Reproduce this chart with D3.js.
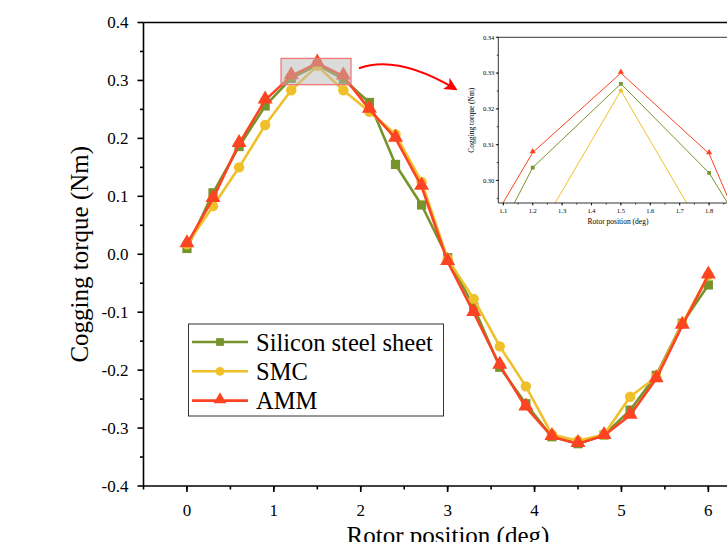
<!DOCTYPE html>
<html>
<head>
<meta charset="utf-8">
<script src="https://cdn.jsdelivr.net/npm/d3@7"></script>
<style>
  body { margin: 0; background: #fff; }
  svg { font-family: "Liberation Serif", "Times New Roman", serif; }
</style>
</head>
<body>
<svg id="vis" width="727" height="542"></svg>
<script>
// rotor position (deg)
const POSITIONS = [0, 0.3, 0.6, 0.9, 1.2, 1.5, 1.8, 2.1, 2.4, 2.7, 3.0, 3.3, 3.6, 3.9, 4.2, 4.5, 4.8, 5.1, 5.4, 5.7, 6.0];
// cogging torque (Nm)
const SILICON = [0.010, 0.106, 0.186, 0.256, 0.3036, 0.327, 0.3021, 0.262, 0.155, 0.085, -0.006, -0.091, -0.195, -0.258, -0.315, -0.327, -0.312, -0.269, -0.209, -0.119, -0.053];
const SMC = [0.017, 0.083, 0.150, 0.223, 0.283, 0.3251, 0.283, 0.246, 0.207, 0.125, -0.008, -0.077, -0.159, -0.228, -0.311, -0.322, -0.311, -0.246, -0.212, -0.120, -0.036];
const AMM = [0.018, 0.096, 0.191, 0.266, 0.3078, 0.330, 0.3075, 0.250, 0.200, 0.117, -0.013, -0.101, -0.192, -0.264, -0.315, -0.327, -0.313, -0.278, -0.215, -0.123, -0.036];

const SERIES_NAMES = ["Silicon steel sheet", "SMC", "AMM"];
const X_TICKS = [0, 1, 2, 3, 4, 5, 6];
const Y_TICKS = [-0.4, -0.3, -0.2, -0.1, 0.0, 0.1, 0.2, 0.3, 0.4];
const INSET_X_TICKS = [1.1, 1.2, 1.3, 1.4, 1.5, 1.6, 1.7, 1.8];
const INSET_Y_TICKS = [0.30, 0.31, 0.32, 0.33, 0.34];

const COLORS = ["#76942b", "#f0c02a", "#fc4422"];
const SHAPES = [d3.symbolSquare, d3.symbolCircle, d3.symbolTriangle];

const svg = d3.select("#vis");
const defs = svg.append("defs");
const series = [SILICON, SMC, AMM].map((vals, i) => ({
    name: SERIES_NAMES[i], color: COLORS[i], shape: SHAPES[i],
    points: POSITIONS.map((p, j) => ({x: p, y: vals[j]}))
}));

// hyphen instead of unicode minus, like the original figure
const fmt = spec => d => d3.format(spec)(d).replace("\u2212", "-");

// main scales
const x = d3.scaleLinear().domain([-0.5, 6.5]).range([143.5, 751.8]);
const y = d3.scaleLinear().domain([-0.4, 0.4]).range([486, 22.5]);

function drawAxes(g, xs, ys, opt) {
    const [x0, x1] = xs.range();
    const [y0, y1] = ys.range();
    const sw = opt.sw;
    // frame: bottom, left, top
    g.append("line").attr("x1", x0).attr("x2", x1).attr("y1", y0).attr("y2", y0)
        .attr("stroke", "#000").attr("stroke-width", sw);
    g.append("line").attr("x1", x0).attr("x2", x0).attr("y1", y0).attr("y2", y1)
        .attr("stroke", "#000").attr("stroke-width", sw);
    g.append("line").attr("x1", x0).attr("x2", x1).attr("y1", y1).attr("y2", y1)
        .attr("stroke", "#000").attr("stroke-width", sw);

    g.selectAll(null).data(opt.xMinor).enter().append("line")
        .attr("x1", d => xs(d)).attr("x2", d => xs(d))
        .attr("y1", y0).attr("y2", y0 + opt.minor)
        .attr("stroke", "#000").attr("stroke-width", sw);
    g.selectAll(null).data(opt.xTicks).enter().append("line")
        .attr("x1", d => xs(d)).attr("x2", d => xs(d))
        .attr("y1", y0).attr("y2", y0 + opt.major)
        .attr("stroke", "#000").attr("stroke-width", sw);
    g.selectAll(null).data(opt.xTicks).enter().append("text")
        .attr("x", d => xs(d)).attr("y", y0 + opt.xLabOff)
        .attr("text-anchor", "middle").attr("font-size", opt.fs)
        .text(opt.fmtX);

    g.selectAll(null).data(opt.yMinor).enter().append("line")
        .attr("y1", d => ys(d)).attr("y2", d => ys(d))
        .attr("x1", x0).attr("x2", x0 - opt.minor)
        .attr("stroke", "#000").attr("stroke-width", sw);
    g.selectAll(null).data(opt.yTicks).enter().append("line")
        .attr("y1", d => ys(d)).attr("y2", d => ys(d))
        .attr("x1", x0).attr("x2", x0 - opt.major)
        .attr("stroke", "#000").attr("stroke-width", sw);
    g.selectAll(null).data(opt.yTicks).enter().append("text")
        .attr("x", x0 - opt.yLabOff).attr("y", d => ys(d))
        .attr("dy", "0.35em").attr("text-anchor", "end").attr("font-size", opt.fs)
        .text(opt.fmtY);
}

// main axes
const main = svg.append("g");
drawAxes(main, x, y, {
    xTicks: X_TICKS, yTicks: Y_TICKS,
    xMinor: d3.range(-0.5, 6.51, 0.5), yMinor: d3.range(-0.35, 0.4, 0.1),
    fmtX: fmt("d"), fmtY: fmt(".1f"),
    fs: 17, major: 6, minor: 3.5, sw: 1.6, xLabOff: 30, yLabOff: 15
});

main.append("text")
    .attr("transform", `translate(88, ${y(0)}) rotate(-90)`)
    .attr("text-anchor", "middle").attr("font-size", 25)
    .text("Cogging torque (Nm)");
main.append("text")
    .attr("x", 448).attr("y", 544)
    .attr("text-anchor", "middle").attr("font-size", 25)
    .text("Rotor position (deg)");

// series lines and markers
function drawSeries(g, xs, ys, lw, msize) {
    const line = d3.line().x(d => xs(d.x)).y(d => ys(d.y));
    series.forEach(s => {
        g.append("path").datum(s.points)
            .attr("d", line).attr("fill", "none")
            .attr("stroke", s.color).attr("stroke-width", lw)
            .attr("stroke-linejoin", "round");
        const tri = s.shape === d3.symbolTriangle;
        g.selectAll(null).data(s.points).enter().append("path")
            .attr("d", d3.symbol().type(s.shape).size(tri ? msize * 1.15 : msize))
            .attr("transform", d => `translate(${xs(d.x)},${ys(d.y) + (tri ? -1 : 0)})`)
            .attr("fill", s.color);
    });
}
drawSeries(main.append("g"), x, y, 2.6, 85);

// inset scales
const ix = d3.scaleLinear().domain([1.083, 1.9]).range([498.3, 738.5]);
const iy = d3.scaleLinear().domain([0.2937, 0.34]).range([203, 37.3]);

// highlight rectangle on main plot
main.append("rect")
    .attr("x", x(ix.domain()[0])).attr("y", y(0.338))
    .attr("width", x(1.888) - x(ix.domain()[0]))
    .attr("height", y(0.2927) - y(0.338))
    .attr("fill", "#b8b8b8").attr("fill-opacity", 0.5)
    .attr("stroke", "#f07878").attr("stroke-width", 1.3);

// arrow
defs.append("marker")
    .attr("id", "arrowhead").attr("viewBox", "0 0 10 10")
    .attr("refX", 8).attr("refY", 5)
    .attr("markerWidth", 6).attr("markerHeight", 6)
    .attr("orient", "auto-start-reverse")
    .append("path").attr("d", "M0,0 L10,5 L0,10 L2.5,5 Z").attr("fill", "#ff0000");

const ax0 = x(1.888) + 8, ay0 = y(0.321);
const ax1 = ix.range()[0] - 43, ay1 = iy(0.327) + 5;
svg.append("path")
    .attr("d", `M${ax0},${ay0} Q${(ax0 + ax1) / 2 - 10},${ay0 - 14} ${ax1},${ay1}`)
    .attr("fill", "none").attr("stroke", "#ff0000").attr("stroke-width", 2.2)
    .attr("marker-end", "url(#arrowhead)");

// inset
const inset = svg.append("g");
inset.append("rect")
    .attr("x", ix.range()[0]).attr("y", iy.range()[1])
    .attr("width", ix.range()[1] - ix.range()[0])
    .attr("height", iy.range()[0] - iy.range()[1])
    .attr("fill", "#fff");
defs.append("clipPath").attr("id", "insetClip")
    .append("rect")
    .attr("x", ix.range()[0]).attr("y", iy.range()[1])
    .attr("width", ix.range()[1] - ix.range()[0])
    .attr("height", iy.range()[0] - iy.range()[1]);
drawSeries(inset.append("g").attr("clip-path", "url(#insetClip)"), ix, iy, 1, 14);

drawAxes(inset, ix, iy, {
    xTicks: INSET_X_TICKS, yTicks: INSET_Y_TICKS,
    xMinor: d3.range(1.1, 1.86, 0.05), yMinor: d3.range(0.295, 0.34, 0.005),
    fmtX: fmt(".1f"), fmtY: fmt(".2f"),
    fs: 6.5, major: 2.5, minor: 1.5, sw: 0.8, xLabOff: 9.5, yLabOff: 4
});

inset.append("text")
    .attr("transform", `translate(474, ${(iy.range()[0] + iy.range()[1]) / 2}) rotate(-90)`)
    .attr("text-anchor", "middle").attr("font-size", 7.5)
    .text("Cogging torque (Nm)");
inset.append("text")
    .attr("x", 618).attr("y", 224)
    .attr("text-anchor", "middle").attr("font-size", 7.5)
    .text("Rotor position (deg)");

// legend
const legend = svg.append("g");
legend.append("rect")
    .attr("x", 188.5).attr("y", 324).attr("width", 255).attr("height", 92)
    .attr("fill", "#fff").attr("stroke", "#333").attr("stroke-width", 1);
series.forEach((s, i) => {
    const ly = 342 + i * 29.3;
    legend.append("line")
        .attr("x1", 192).attr("x2", 248).attr("y1", ly).attr("y2", ly)
        .attr("stroke", s.color).attr("stroke-width", 2.6);
    const tri = s.shape === d3.symbolTriangle;
    legend.append("path")
        .attr("d", d3.symbol().type(s.shape).size(tri ? 70 : 60))
        .attr("transform", `translate(220,${ly + (tri ? -1 : 0)})`)
        .attr("fill", s.color);
    legend.append("text")
        .attr("x", 256).attr("y", ly).attr("dy", "0.35em")
        .attr("font-size", 24.5).text(s.name);
});
</script>
</body>
</html>
